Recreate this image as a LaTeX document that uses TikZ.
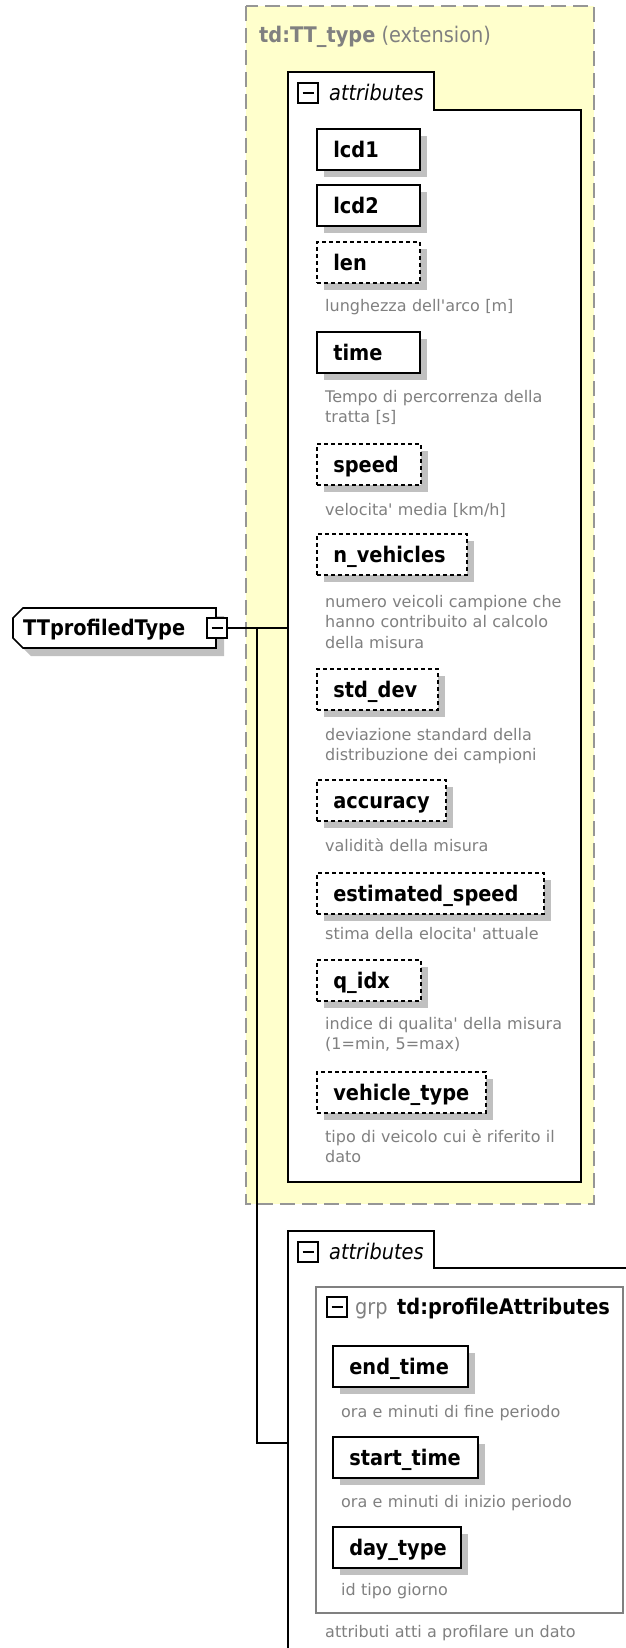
\documentclass[tikz,border=0pt]{standalone}
\usepackage{fontspec}
\setmainfont{DejaVu Sans}
\newfontfamily\tahoma{DejaVu Sans}[FakeStretch=0.9]
\usetikzlibrary{shadows}
\definecolor{xsdyellow}{RGB}{255,255,204}
\definecolor{xsdshadow}{RGB}{192,192,192}
\definecolor{xsdgray}{RGB}{128,128,128}
\definecolor{xsddash}{RGB}{150,150,150}
\newcommand\namefont{\tahoma\bfseries\fontsize{21.5pt}{24pt}\selectfont}
\newcommand\lblfont{\tahoma\fontsize{21.5pt}{24pt}\selectfont}
\newcommand\descfont{\fontsize{16pt}{20.5pt}\selectfont}
\newcommand\minusbar{\rule{11pt}{1.5pt}}

\begin{document}
\begin{tikzpicture}[x=1pt,y=-1pt,
	elem/.style={draw,line width=1.7pt,fill=white,anchor=north west,minimum height=41pt,
		inner xsep=16.5pt,inner ysep=0pt,text width=#1,align=left,text height=15.5pt,text depth=0pt,
		font=\namefont,drop shadow={shadow xshift=7pt,shadow yshift=-7pt,fill=xsdshadow,opacity=1}},
	optl/.style={dash pattern=on 4pt off 3pt},
	desc/.style={anchor=base west,inner sep=0pt,text width=290pt,align=left,text=xsdgray,font=\descfont},
	lbl/.style={anchor=west,inner sep=0pt,text height=15pt,text depth=0pt,font=\lblfont},
	tog/.style={draw,line width=1.5pt,fill=white,minimum size=20pt,inner sep=0pt},
	conn/.style={line width=1.7pt}]
	\useasboundingbox (0,0) rectangle (626,1648);
	\clip (0,0) rectangle (626,1648);
	% extension frame
	\draw[xsddash,line width=1.7pt,dash pattern=on 15pt off 7pt,fill=xsdyellow] (246,6) rectangle (594,1204);
	\node[lbl,text=xsdgray] (ttl) at (259,35) {\textbf{td:TT\_type} (extension)};
	\draw[line width=1.9pt,fill=white] (288,72)--(434,72)--(434,110)--(581,110)--(581,1182)--(288,1182)--cycle;
	\node[tog] (t1) at (308,93) {\minusbar};
	\node[lbl] (a1) at (329,93) {\itshape attributes};
	\node[elem=70] (lcd1) at (316,128) {lcd1};
	\node[elem=70] (lcd2) at (316,184) {lcd2};
	\node[elem=70,optl] (len) at (316,241) {len};
	\node[desc] (lend) at (325,311) {lunghezza dell\textquotesingle arco [m]};
	\node[elem=70] (time) at (316,331) {time};
	\node[desc] (timed) at (325,402) {Tempo di percorrenza della\\tratta [s]};
	\node[elem=71,optl] (speed) at (316,443) {speed};
	\node[desc] (speedd) at (325,515) {velocita\textquotesingle{} media [km/h]};
	\node[elem=117,optl] (nveh) at (316,533) {n\_vehicles};
	\node[desc] (nvehd) at (325,607) {numero veicoli campione che\\hanno contribuito al calcolo\\della misura};
	\node[elem=88,optl] (std) at (316,668) {std\_dev};
	\node[desc] (stdd) at (325,740) {deviazione standard della\\distribuzione dei campioni};
	\node[elem=96,optl] (acc) at (316,779) {accuracy};
	\node[desc] (accd) at (325,851) {validità della misura};
	\node[elem=194,optl] (est) at (316,872) {estimated\_speed};
	\node[desc] (estd) at (325,939) {stima della elocita\textquotesingle{} attuale};
	\node[elem=71,optl] (qidx) at (316,959) {q\_idx};
	\node[desc] (qidxd) at (325,1029) {indice di qualita\textquotesingle{} della misura\\(1=min, 5=max)};
	\node[elem=136,optl] (veh) at (316,1071) {vehicle\_type};
	\node[desc] (vehd) at (325,1142) {tipo di veicolo cui è riferito il\\dato};
	% profile attributes
	\draw[line width=1.9pt] (288,1660)--(288,1231)--(434,1231)--(434,1268)--(640,1268);
	\node[tog] (t2) at (308,1252) {\minusbar};
	\node[lbl] (a2) at (329,1252) {\itshape attributes};
	\draw[xsdgray,line width=1.2pt] (316,1287) rectangle (623,1613);
	\node[tog] (t3) at (337,1307) {\minusbar};
	\node[lbl,text=xsdgray] (grp) at (355,1307) {grp};
	\node[lbl] (grpname) at (397,1307) {\bfseries td:profileAttributes};
	\node[elem=102] (endt) at (332,1345) {end\_time};
	\node[desc] (endtd) at (341,1417) {ora e minuti di fine periodo};
	\node[elem=112] (startt) at (332,1436) {start\_time};
	\node[desc] (starttd) at (341,1507) {ora e minuti di inizio periodo};
	\node[elem=95] (dayt) at (332,1526) {day\_type};
	\node[desc] (daytd) at (341,1595) {id tipo giorno};
	\node[desc] (grpd) at (325,1637) {attributi atti a profilare un dato};
	% complex type
	\fill[xsdshadow] (31,616)--(224,616)--(224,656)--(31,656)--(21,646)--(21,626)--cycle;
	\draw[line width=1.7pt,fill=white] (23,608)--(216,608)--(216,648)--(23,648)--(13,638)--(13,618)--cycle;
	\node[anchor=west,inner sep=0pt,text height=15pt,text depth=0pt,font=\namefont] (tt) at (23,628) {TTprofiledType};
	\node[tog] (ttmin) at (217,628) {\minusbar};
	\coordinate (a1in) at (288,628);
	\coordinate (fork) at (257,628);
	\coordinate (a2in) at (288,1443);
	\draw[conn] (ttmin.east)--(a1in);
	\draw[conn] (fork)|-(a2in);
\end{tikzpicture}
\end{document}
